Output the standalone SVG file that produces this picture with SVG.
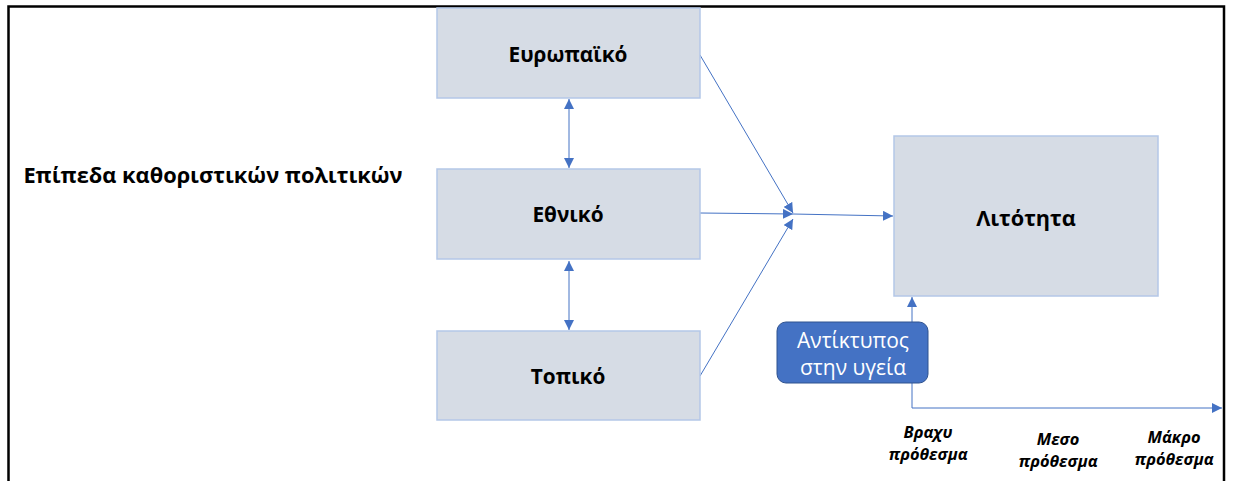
<svg xmlns="http://www.w3.org/2000/svg" width="1233" height="481" viewBox="0 0 1233 481">
<style>
.box{fill:#d6dce5;stroke:#b4c7e7;stroke-width:1.5}
.lbl{font-family:"Open Sans","Noto Sans",sans-serif;font-weight:bold;fill:#000;text-anchor:middle}
.con{stroke:#4472c4;stroke-width:1;fill:none}
.ax{font-family:"Open Sans","Noto Sans",sans-serif;font-weight:bold;font-style:italic;font-size:16.4px;fill:#000;text-anchor:middle}
</style>
<defs>
<marker id="ah" viewBox="0 0 10 10" refX="10" refY="5" markerWidth="10" markerHeight="10" markerUnits="userSpaceOnUse" orient="auto-start-reverse">
<path d="M0,0 L10,5 L0,10 z" fill="#4472c4"/>
</marker>
</defs>
<rect width="1233" height="481" fill="#fff"/>
<path d="M8.5,481 V6.5 H1224 V481" fill="none" stroke="#000" stroke-width="2.5"/>
<g id="title"><text x="213" y="183" class="lbl" style="font-size:21.8px">Επίπεδα καθοριστικών πολιτικών</text></g>
<g id="connectors">
<line class="con" x1="569" y1="99" x2="569" y2="168" marker-start="url(#ah)" marker-end="url(#ah)"/>
<line class="con" x1="569" y1="261" x2="569" y2="330" marker-start="url(#ah)" marker-end="url(#ah)"/>
<line class="con" x1="700" y1="55" x2="793" y2="213" marker-end="url(#ah)"/>
<line class="con" x1="700" y1="213" x2="793" y2="214" marker-end="url(#ah)"/>
<line class="con" x1="700" y1="376" x2="793" y2="219" marker-end="url(#ah)"/>
<line class="con" x1="793" y1="214" x2="893" y2="216" marker-end="url(#ah)"/>
<line class="con" x1="912" y1="408" x2="912" y2="297" marker-end="url(#ah)"/>
<line class="con" x1="912" y1="408" x2="1222" y2="408" marker-end="url(#ah)"/>
</g>
<g id="european"><rect class="box" x="437" y="8" width="263" height="90"/><text x="568" y="62" class="lbl" style="font-size:20.8px">Ευρωπαϊκό</text></g>
<g id="national"><rect class="box" x="437" y="169" width="263" height="90"/><text x="568" y="222" class="lbl" style="font-size:20.8px">Εθνικό</text></g>
<g id="local"><rect class="box" x="437" y="331" width="263" height="89"/><text x="568" y="384" class="lbl" style="font-size:20.8px">Τοπικό</text></g>
<g id="austerity"><rect class="box" x="894" y="136" width="264" height="160"/><text x="1026" y="226" class="lbl" style="font-size:21.7px">Λιτότητα</text></g>
<g id="health"><rect x="777" y="322" width="151" height="61" rx="9" fill="#4472c4" stroke="#2f528f" stroke-width="1"/>
<text x="853" y="348" font-family="'Open Sans','Noto Sans',sans-serif" font-size="21" fill="#fff" text-anchor="middle">Αντίκτυπος</text>
<text x="853" y="375" font-family="'Open Sans','Noto Sans',sans-serif" font-size="21" fill="#fff" text-anchor="middle">στην υγεία</text></g>
<g id="short"><text class="ax" x="928" y="438">Βραχυ</text><text class="ax" x="928" y="460">πρόθεσμα</text></g>
<g id="medium"><text class="ax" x="1058" y="445">Μεσο</text><text class="ax" x="1058" y="467">πρόθεσμα</text></g>
<g id="long"><text class="ax" x="1174" y="443">Μάκρο</text><text class="ax" x="1174" y="465">πρόθεσμα</text></g>
</svg>
